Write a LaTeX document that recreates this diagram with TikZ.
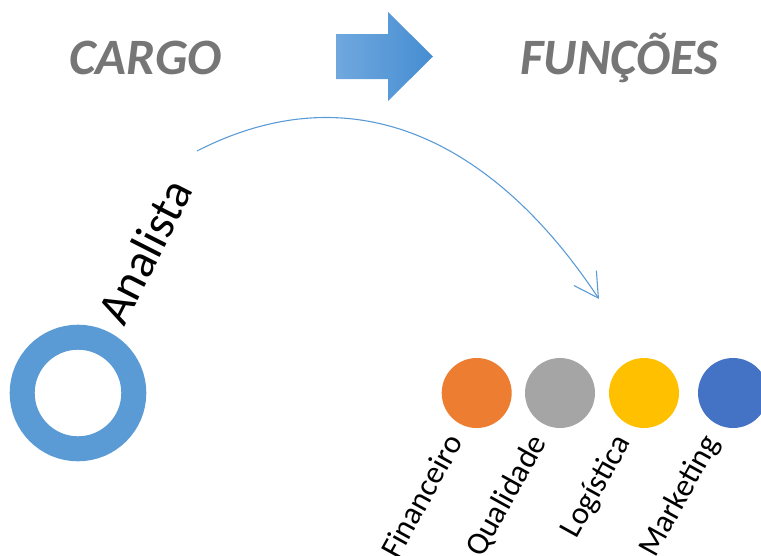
\documentclass[tikz,border=0pt]{standalone}
\usepackage{fontspec}
\setmainfont{Carlito}
\usetikzlibrary{arrows.meta}
\definecolor{titlegray}{RGB}{118,118,118}
\definecolor{ringblue}{RGB}{91,155,213}
\definecolor{arrowlight}{RGB}{112,168,222}
\definecolor{arrowdark}{RGB}{70,141,210}
\definecolor{cOrange}{RGB}{237,125,49}
\definecolor{cGray}{RGB}{165,165,165}
\definecolor{cYellow}{RGB}{255,192,0}
\definecolor{cBlue}{RGB}{68,114,196}
\tikzset{
  title/.style={font=\bfseries\itshape\fontsize{51}{51}\selectfont, text=titlegray, anchor=base, inner sep=0},
  dot/.style={circle, fill=#1, minimum size=70pt, inner sep=0},
  role/.style={font=\fontsize{32}{32}\selectfont, rotate=61, anchor=base east, inner sep=0},
  link/.style={draw=ringblue, line width=1.1pt, -{Straight Barb[length=24pt, width=27pt, line width=1.1pt]}}
}
\begin{document}
\begin{tikzpicture}[x=1pt,y=-1pt]
\useasboundingbox (0,0) rectangle (761,555);

% headings
\node[title] (cargo) at (145.5,74) {CARGO};
\node[title] (funcoes) at (619.5,74) {FUNÇÕES};

% block arrow between the headings
\path[left color=arrowlight, right color=arrowdark]
  (336,34) -- (388,34) -- (388,12) -- (433,56.5) -- (388,101) -- (388,79) -- (336,79) -- cycle;

% the role: ring and rotated name
\node[circle, draw=ringblue, line width=25pt, minimum size=111.6pt, inner sep=0] (ring) at (78,393) {};
\node[font=\fontsize{48}{48}\selectfont, rotate=63, anchor=base west, inner sep=0] (analista) at (124,328) {Analista};

% functions
\node[dot=cOrange] (fin) at (476.7,393) {};
\node[dot=cGray]   (qua) at (560,393) {};
\node[dot=cYellow] (log) at (644,393) {};
\node[dot=cBlue]   (mkt) at (733,393) {};

\node[role] (finT) at ([xshift=-13pt,yshift=-49pt]fin.center) {Financeiro};
\node[role] (quaT) at ([xshift=-13pt,yshift=-49pt]qua.center) {Qualidade};
\node[role] (logT) at ([xshift=-13pt,yshift=-49pt]log.center) {Logística};
\node[role] (mktT) at ([xshift=-13pt,yshift=-49pt]mkt.center) {Marketing};

% curved connector from the role to the functions
\coordinate (c0) at (197,151);
\coordinate (c1) at (599,299);
\draw[link] (c0) .. controls (357,69) and (497,145) .. (c1);
\end{tikzpicture}
\end{document}
